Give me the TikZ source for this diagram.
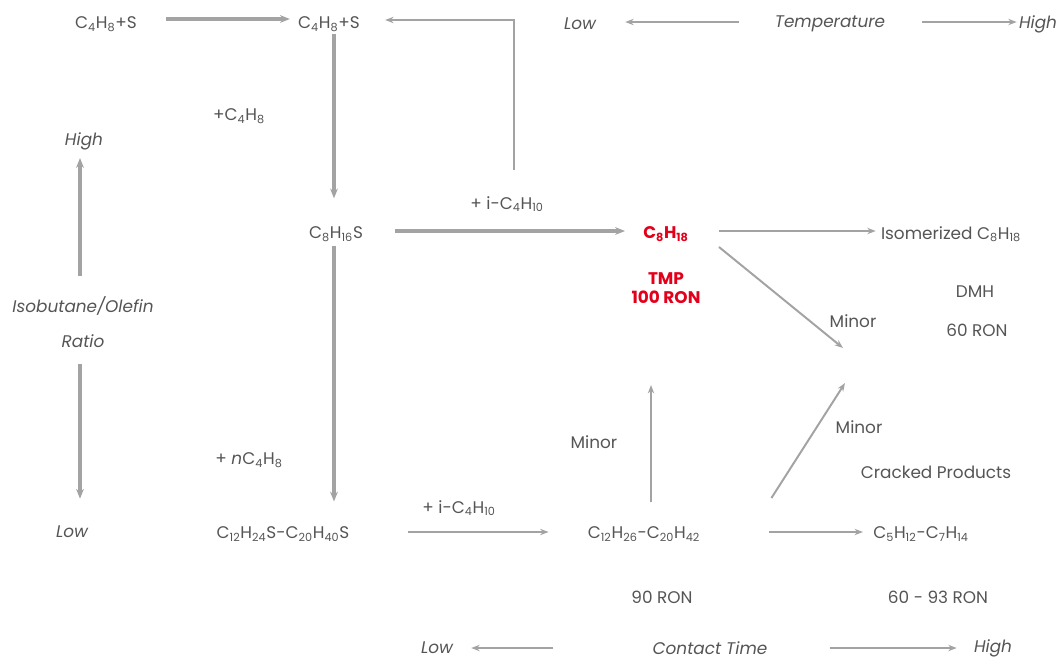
\documentclass[tikz,border=0pt]{standalone}
\usepackage{fontspec}
\setmainfont{Poppins}
\usetikzlibrary{arrows.meta,calc}
\definecolor{txt}{HTML}{555555}
\definecolor{arr}{HTML}{A3A3A3}
\definecolor{rd}{HTML}{E2001A}
\newcommand{\ch}[1]{\textsubscript{#1}}
\begin{document}
\begin{tikzpicture}[x=0.025cm,y=-0.025cm,
  every node/.style={text=txt,inner sep=0pt,font=\fontsize{12}{13.5}\selectfont},
  axis/.style={font=\itshape\fontsize{12}{13.5}\selectfont},
  hot/.style={text=rd,font=\bfseries\fontsize{12}{13.5}\selectfont},
  flow/.style={draw=arr,line width=2.6pt,-{Stealth[length=7pt,width=5.5pt]}},
  side/.style={draw=arr,line width=1.4pt,-{Stealth[length=6pt,width=4.5pt]}},
  scl/.style={draw=arr,line width=1.9pt,-{Stealth[length=6pt,width=4.5pt]}}]
\useasboundingbox (0,0) rectangle (1060,660);
\node (s0) at (106,24) {C\ch{4}H\ch{8}+S};
\node (s1) at (329,24) {C\ch{4}H\ch{8}+S};
\node[axis] (tlo) at (580,24) {Low};
\node[axis] (tmp) at (830,24) {Temperature};
\node[axis] (thi) at (1038,24) {High};
\node (add1) at (239,116) {+C\ch{4}H\ch{8}};
\node[axis] (rhi) at (84,141) {High};
\node (c8s) at (336,234) {C\ch{8}H\ch{16}S};
\node (iso1) at (507,204) {+ i-C\ch{4}H\ch{10}};
\node[hot] (c8) at (666,234) {C\ch{8}H\ch{18}};
\node[hot,align=center] (tmp100) at (666,288) {TMP\\100 RON};
\node (isoc8) at (951,234) {Isomerized C\ch{8}H\ch{18}};
\node[axis] (ratio) at (83,306) {Isobutane/Olefin};
\node[axis] (ratio2) at (83,341) {Ratio};
\node (mn1) at (853,321) {Minor};
\node (dmh) at (975,292) {DMH};
\node (r60) at (977,330) {60 RON};
\node (mn2) at (594,442) {Minor};
\node (mn3) at (859,427) {Minor};
\node (crk) at (936,472) {Cracked Products};
\node (add2) at (249,460) {+ \textit{n}C\ch{4}H\ch{8}};
\node[axis] (rlo) at (72,532) {Low};
\node (c12s) at (283,534) {C\ch{12}H\ch{24}S-C\ch{20}H\ch{40}S};
\node (iso2) at (459,508) {+ i-C\ch{4}H\ch{10}};
\node (c12) at (644,534) {C\ch{12}H\ch{26}-C\ch{20}H\ch{42}};
\node (c5) at (921,534) {C\ch{5}H\ch{12}-C\ch{7}H\ch{14}};
\node (r90) at (662,597) {90 RON};
\node (r6093) at (938,597) {60 - 93 RON};
\node[axis] (clo) at (437,648) {Low};
\node[axis] (ctm) at (710,648) {Contact Time};
\node[axis] (chi) at (993,648) {High};
\coordinate (ret) at (514,170);
\coordinate (dmhin) at (843,348);
\coordinate (tmpin) at (651,385);
\coordinate (crkin) at (845,383);
\draw[flow] ($(s0.east)+(29,-5)$) -- ($(s1.west)+(-8,-5)$);
\draw[side] (ret) |- ($(s1.east)+(25,-4)$);
\draw[flow] ($(s1.south)+(5,2)$) -- ($(c8s.north)+(-2,-28)$);
\draw[flow] ($(c8s.east)+(32,-3)$) -- ($(c8.west)+(-18,-3)$);
\draw[flow] ($(c8s.south)+(-2,4)$) -- ($(c12s.north)+(51,-25)$);
\draw[side] ($(c8.east)+(30,-3)$) -- ($(isoc8.west)+(-5,-3)$);
\draw[side] ($(c8.east)+(30,13)$) -- (dmhin);
\draw[side] ($(c12s.east)+(58,-2)$) -- ($(c12.west)+(-39,-2)$);
\draw[side] ($(c12.north)+(7,-24)$) -- (tmpin);
\draw[side] ($(c12.east)+(71,-36)$) -- (crkin);
\draw[side] ($(c12.east)+(69,-2)$) -- ($(c5.west)+(-10,-2)$);
\draw[scl] ($(tmp.west)+(-36,-2)$) -- ($(tlo.east)+(29,-2)$);
\draw[scl] ($(tmp.east)+(37,-2)$) -- ($(thi.west)+(-2,-2)$);
\draw[flow] ($(ratio.north)+(-3,-20)$) -- ($(rhi.south)+(-4,8)$);
\draw[flow] ($(ratio2.south)+(-3,16)$) -- ($(rlo.north)+(8,-27)$);
\draw[scl] ($(ctm.west)+(-99,0)$) -- ($(clo.east)+(18,0)$);
\draw[scl] ($(ctm.east)+(62,0)$) -- ($(chi.west)+(-17,0)$);
\end{tikzpicture}
\end{document}
